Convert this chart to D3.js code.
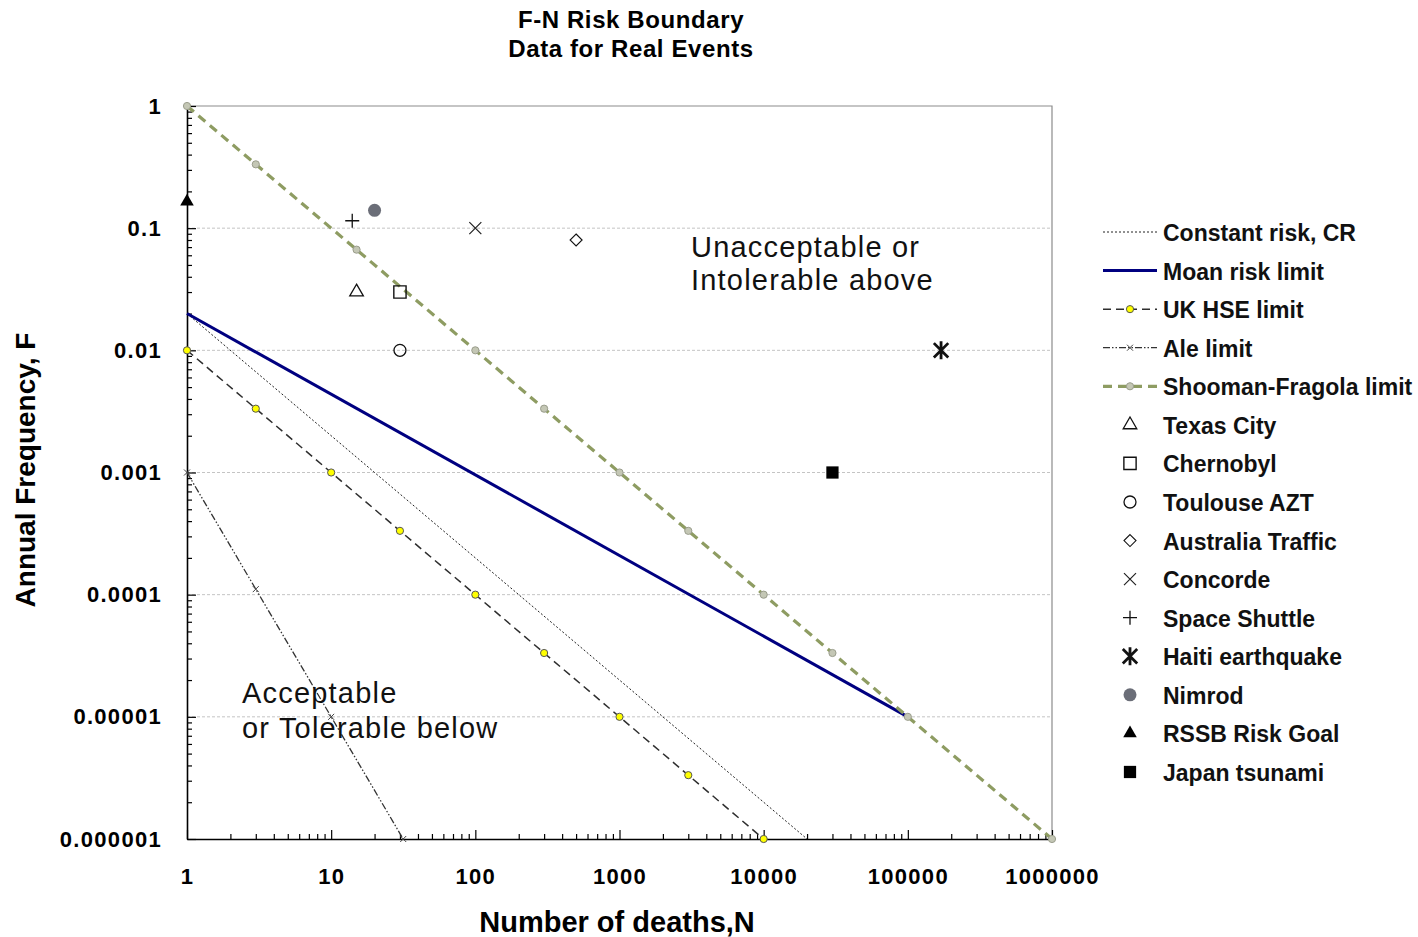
<!DOCTYPE html>
<html>
<head>
<meta charset="utf-8">
<script src="https://cdn.jsdelivr.net/npm/d3@7"></script>
<style>
  body { margin: 0; background: #fff; }
  svg { display: block; font-family: "Liberation Sans", Arial, sans-serif; }
</style>
</head>
<body>
<div id="chart"></div>
<script>
// axis ticks
const xTickValues = [1, 10, 100, 1000, 10000, 100000, 1000000];
const xTickLabels = ['1', '10', '100', '1000', '10000', '100000', '1000000'];
const yTickValues = [0.000001, 0.00001, 0.0001, 0.001, 0.01, 0.1, 1];
const yTickLabels = ['0.000001', '0.00001', '0.0001', '0.001', '0.01', '0.1', '1'];

// boundary lines
const crN = [1, 20000];
const crF = [0.02, 0.000001];
const moanN = [1, 100000];
const moanF = [0.02, 0.00001];
const hseN = [1, 3, 10, 30, 100, 300, 1000, 3000, 10000];
const hseF = [0.01, 0.00333, 0.001, 0.000333, 0.0001, 0.0000333, 0.00001, 0.00000333, 0.000001];
const aleN = [1, 3, 10, 31.6];
const aleF = [0.001, 0.000111, 0.00001, 0.000001];
const sfN = [1, 3, 15, 100, 300, 1000, 3000, 10000, 30000, 100000, 1000000];
const sfF = [1, 0.333, 0.0667, 0.01, 0.00333, 0.001, 0.000333, 0.0001, 0.0000333, 0.00001, 0.000001];

// real events
const eventNames = ['Texas City', 'Chernobyl', 'Toulouse AZT', 'Australia Traffic', 'Concorde',
  'Space Shuttle', 'Haiti earthquake', 'Nimrod', 'RSSB Risk Goal', 'Japan tsunami'];
const eventN = [15, 30, 30, 500, 100, 14, 170000, 20, 1, 30000];
const eventF = [0.03, 0.03, 0.01, 0.08, 0.1, 0.115, 0.01, 0.14, 0.165, 0.001];

const lineNames = ['Constant risk, CR', 'Moan risk limit', 'UK HSE limit', 'Ale limit', 'Shooman-Fragola limit'];

const W = 1418;
const H = 937;
const plot = { left: 187, right: 1052, top: 106, bottom: 839 };

const svg = d3.select('#chart')
  .append('svg')
  .attr('width', W)
  .attr('height', H);

const x = d3.scaleLog().domain([1, 1000000]).range([plot.left, plot.right]);
const y = d3.scaleLog().domain([0.000001, 1]).range([plot.bottom, plot.top]);

// minor ticks 2..9 per decade
const minorX = [];
for (let p = 0; p < 6; p += 1) for (let k = 2; k < 10; k += 1) minorX.push(k * 10 ** p);
const minorY = [];
for (let p = -6; p < 0; p += 1) for (let k = 2; k < 10; k += 1) minorY.push(k * 10 ** p);

// horizontal grid
svg.append('g')
  .selectAll('line')
  .data(yTickValues.slice(1, -1))
  .join('line')
  .attr('x1', plot.left)
  .attr('x2', plot.right)
  .attr('y1', (d) => y(d))
  .attr('y2', (d) => y(d))
  .attr('stroke', '#c4c4c4')
  .attr('stroke-width', 1)
  .attr('stroke-dasharray', '3,2');

// top / right border
svg.append('path')
  .attr('d', `M${plot.left},${plot.top}H${plot.right}V${plot.bottom}`)
  .attr('fill', 'none')
  .attr('stroke', '#8c8c8c')
  .attr('stroke-width', 1.2);

// axes
const axisFont = (g) => g
  .attr('font-family', '"Liberation Sans", Arial, sans-serif')
  .attr('font-size', 22)
  .attr('font-weight', 'bold')
  .attr('letter-spacing', 1.3);

const xMinor = svg.append('g')
  .attr('transform', `translate(0,${plot.bottom})`)
  .call(d3.axisBottom(x).tickValues(minorX).tickSize(-5).tickFormat(''));
xMinor.select('.domain').remove();

const yMinor = svg.append('g')
  .attr('transform', `translate(${plot.left},0)`)
  .call(d3.axisLeft(y).tickValues(minorY).tickSize(-5).tickFormat(''));
yMinor.select('.domain').remove();

svg.append('g')
  .attr('transform', `translate(0,${plot.bottom})`)
  .call(d3.axisBottom(x)
    .tickValues(xTickValues)
    .tickSizeInner(-9)
    .tickSizeOuter(0)
    .tickPadding(29)
    .tickFormat((d, i) => xTickLabels[i]))
  .call(axisFont)
  .call((g) => g.select('.domain').attr('stroke-width', 1.6));

svg.append('g')
  .attr('transform', `translate(${plot.left},0)`)
  .call(d3.axisLeft(y)
    .tickValues(yTickValues)
    .tickSizeInner(-9)
    .tickSizeOuter(0)
    .tickPadding(25)
    .tickFormat((d, i) => yTickLabels[i]))
  .call(axisFont)
  .call((g) => g.select('.domain').attr('stroke-width', 1.6));

svg.selectAll('.tick line').attr('stroke-width', 1.2);

// line styles
const lineStyles = [
  { stroke: '#222', width: 1, dash: '2,2' },
  { stroke: '#000080', width: 3, dash: null },
  { stroke: '#2e2e2e', width: 1.5, dash: '8,5' },
  { stroke: '#333', width: 1.3, dash: '7,2,1.5,2,1.5,2' },
  { stroke: '#8e9c62', width: 3.2, dash: '9,6' },
];
const lineData = [
  d3.zip(crN, crF),
  d3.zip(moanN, moanF),
  d3.zip(hseN, hseF),
  d3.zip(aleN, aleF),
  d3.zip(sfN, sfF),
];

const lineGen = d3.line().x((d) => x(d[0])).y((d) => y(d[1]));

svg.append('g')
  .selectAll('path')
  .data(lineData)
  .join('path')
  .attr('d', lineGen)
  .attr('fill', 'none')
  .attr('stroke', (d, i) => lineStyles[i].stroke)
  .attr('stroke-width', (d, i) => lineStyles[i].width)
  .attr('stroke-dasharray', (d, i) => lineStyles[i].dash);

// symbol paths
const crossPath = (s) => `M${-s},${-s}L${s},${s}M${-s},${s}L${s},${-s}`;
const plusPath = (s) => `M${-s},0L${s},0M0,${-s}L0,${s}`;
const starPath = (s) => `${crossPath(s * 0.8)}M0,${-s}L0,${s}`;

function drawLineMarker(g, i) {
  if (i === 2) {
    g.append('circle').attr('r', 3.6).attr('fill', '#ffff00').attr('stroke', '#555').attr('stroke-width', 1);
  } else if (i === 3) {
    g.append('path').attr('d', crossPath(3)).attr('stroke', '#444').attr('stroke-width', 1);
  } else if (i === 4) {
    g.append('circle').attr('r', 3.6).attr('fill', '#c4c7b5').attr('stroke', '#9a9d8c').attr('stroke-width', 1);
  }
}

lineData.forEach((pts, i) => {
  if (i < 2) return;
  pts.forEach((p) => {
    const g = svg.append('g').attr('transform', `translate(${x(p[0])},${y(p[1])})`);
    drawLineMarker(g, i);
  });
});

function drawEventSymbol(g, i) {
  const tri = d3.symbol(d3.symbolTriangle, 80)();
  const sq = d3.symbol(d3.symbolSquare, 150)();
  switch (i) {
    case 0:
      g.append('path').attr('d', tri).attr('fill', 'none').attr('stroke', '#111').attr('stroke-width', 1.3);
      break;
    case 1:
      g.append('path').attr('d', sq).attr('fill', 'none').attr('stroke', '#111').attr('stroke-width', 1.4);
      break;
    case 2:
      g.append('circle').attr('r', 6).attr('fill', 'none').attr('stroke', '#111').attr('stroke-width', 1.3);
      break;
    case 3:
      g.append('path').attr('d', 'M0,-6L6,0L0,6L-6,0Z').attr('fill', 'none').attr('stroke', '#111').attr('stroke-width', 1.1);
      break;
    case 4:
      g.append('path').attr('d', crossPath(6)).attr('stroke', '#222').attr('stroke-width', 1.2);
      break;
    case 5:
      g.append('path').attr('d', plusPath(7)).attr('stroke', '#111').attr('stroke-width', 1.3);
      break;
    case 6:
      g.append('path').attr('d', starPath(9)).attr('stroke', '#111').attr('stroke-width', 2.8);
      break;
    case 7:
      g.append('circle').attr('r', 6.5).attr('fill', '#6b6e78');
      break;
    case 8:
      g.append('path').attr('d', tri).attr('fill', '#000');
      break;
    default:
      g.append('path').attr('d', sq).attr('fill', '#000');
  }
}

eventNames.forEach((name, i) => {
  const g = svg.append('g').attr('transform', `translate(${x(eventN[i])},${y(eventF[i])})`);
  drawEventSymbol(g, i);
});

// region annotations
const notes = svg.append('g')
  .attr('font-size', 29)
  .attr('letter-spacing', 1.2)
  .attr('fill', '#111');
[['Unacceptable or', 691, 257], ['Intolerable above', 691, 290],
  ['Acceptable', 242, 703], ['or Tolerable below', 242, 738]].forEach(([t, tx, ty]) => {
  notes.append('text').attr('x', tx).attr('y', ty).text(t);
});

// titles
svg.append('g')
  .attr('font-size', 24)
  .attr('font-weight', 'bold')
  .attr('letter-spacing', 0.6)
  .attr('text-anchor', 'middle')
  .selectAll('text')
  .data(['F-N Risk Boundary', 'Data for Real Events'])
  .join('text')
  .attr('x', 631)
  .attr('y', (d, i) => 28 + i * 29)
  .text((d) => d);

svg.append('text')
  .attr('x', 617)
  .attr('y', 932)
  .attr('text-anchor', 'middle')
  .attr('font-size', 29)
  .attr('font-weight', 'bold')
  .text('Number of deaths,N');

svg.append('text')
  .attr('transform', 'translate(35,470) rotate(-90)')
  .attr('text-anchor', 'middle')
  .attr('font-size', 28)
  .attr('font-weight', 'bold')
  .text('Annual Frequency, F');

// legend
const legendTop = 232;
const legendStep = 38.57;
const legend = svg.append('g');
const legendNames = lineNames.concat(eventNames);

legendNames.forEach((name, i) => {
  const cy = legendTop + i * legendStep;
  const row = legend.append('g');
  if (i < lineNames.length) {
    const st = lineStyles[i];
    row.append('line')
      .attr('x1', 1103)
      .attr('x2', 1157)
      .attr('y1', cy)
      .attr('y2', cy)
      .attr('stroke', st.stroke)
      .attr('stroke-width', st.width)
      .attr('stroke-dasharray', st.dash);
    drawLineMarker(row.append('g').attr('transform', `translate(1130,${cy})`), i);
  } else {
    const g = row.append('g').attr('transform', `translate(1130,${cy})`);
    drawEventSymbol(g, i - lineNames.length);
  }
  row.append('text')
    .attr('x', 1163)
    .attr('y', cy + 9)
    .attr('font-size', 23)
    .attr('font-weight', 'bold')
    .attr('fill', '#111')
    .text(name);
});
</script>
</body>
</html>
